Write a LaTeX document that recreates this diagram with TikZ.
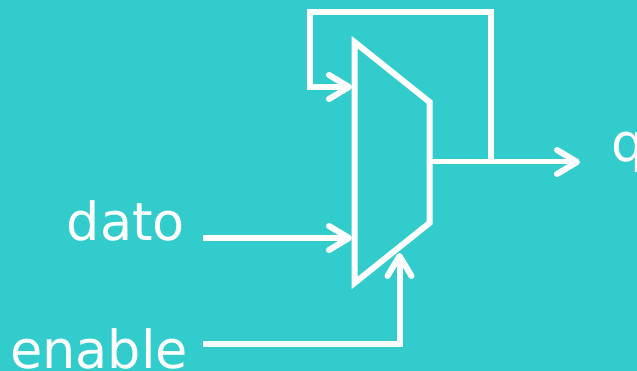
\documentclass[tikz,border=0pt]{standalone}
\usepackage{fontspec}
\setmainfont{DejaVu Sans}
\usepackage{tikz}
\usetikzlibrary{arrows.meta}

\definecolor{muxbg}{HTML}{33CCCC}

\begin{document}
\begin{tikzpicture}[
  x=1pt,y=-1pt,
  wire/.style={draw=white,line width=6pt},
  arrow/.style={wire,-{Straight Barb[round,length=20pt,width=24pt,line width=6pt]}},
  sigleft/.style={text=white,font=\fontsize{52.5}{60}\selectfont,anchor=base east,inner xsep=18pt,inner ysep=0pt,outer sep=0pt},
  sigright/.style={text=white,font=\fontsize{52.5}{60}\selectfont,anchor=base west,inner xsep=31pt,inner ysep=0pt,outer sep=0pt},
]

% background
\fill[muxbg] (0,0) rectangle (637,371);
\useasboundingbox (0,0) rectangle (637,371);

% mux corners
\coordinate (mux nw) at (354.5,42);
\coordinate (mux ne) at (429.5,102);
\coordinate (mux se) at (429.5,223);
\coordinate (mux sw) at (354.5,283);
\draw[wire] (mux nw) -- (mux ne) -- (mux se) -- (mux sw) -- cycle;

% pins on the mux
\coordinate (pin fb) at (352,87);
\coordinate (pin dato) at (352,238);
\coordinate (pin enable) at (399.5,253);
\coordinate (pin out) at (429.5,162);
\coordinate (tap) at (490.5,162);

% signal names
\node[sigleft] (dato) at (203,241) {dato};
\node[sigleft,inner xsep=15pt] (enable) at (203,368) {enable};
\node[sigright] (q) at (580,162) {q};

% inputs
\draw[arrow] (dato.base east |- pin dato) -- (pin dato);
\draw[arrow] (enable.base east |- 0,344) -- (399.5,344) -- (pin enable);

% output
\draw[arrow,line width=5pt] (pin out) -- (q.base west);

% feedback
\draw[arrow] (tap) -- (490.5,12) -- (309.5,12) -- (309.5,87) -- (pin fb);

\end{tikzpicture}
\end{document}
